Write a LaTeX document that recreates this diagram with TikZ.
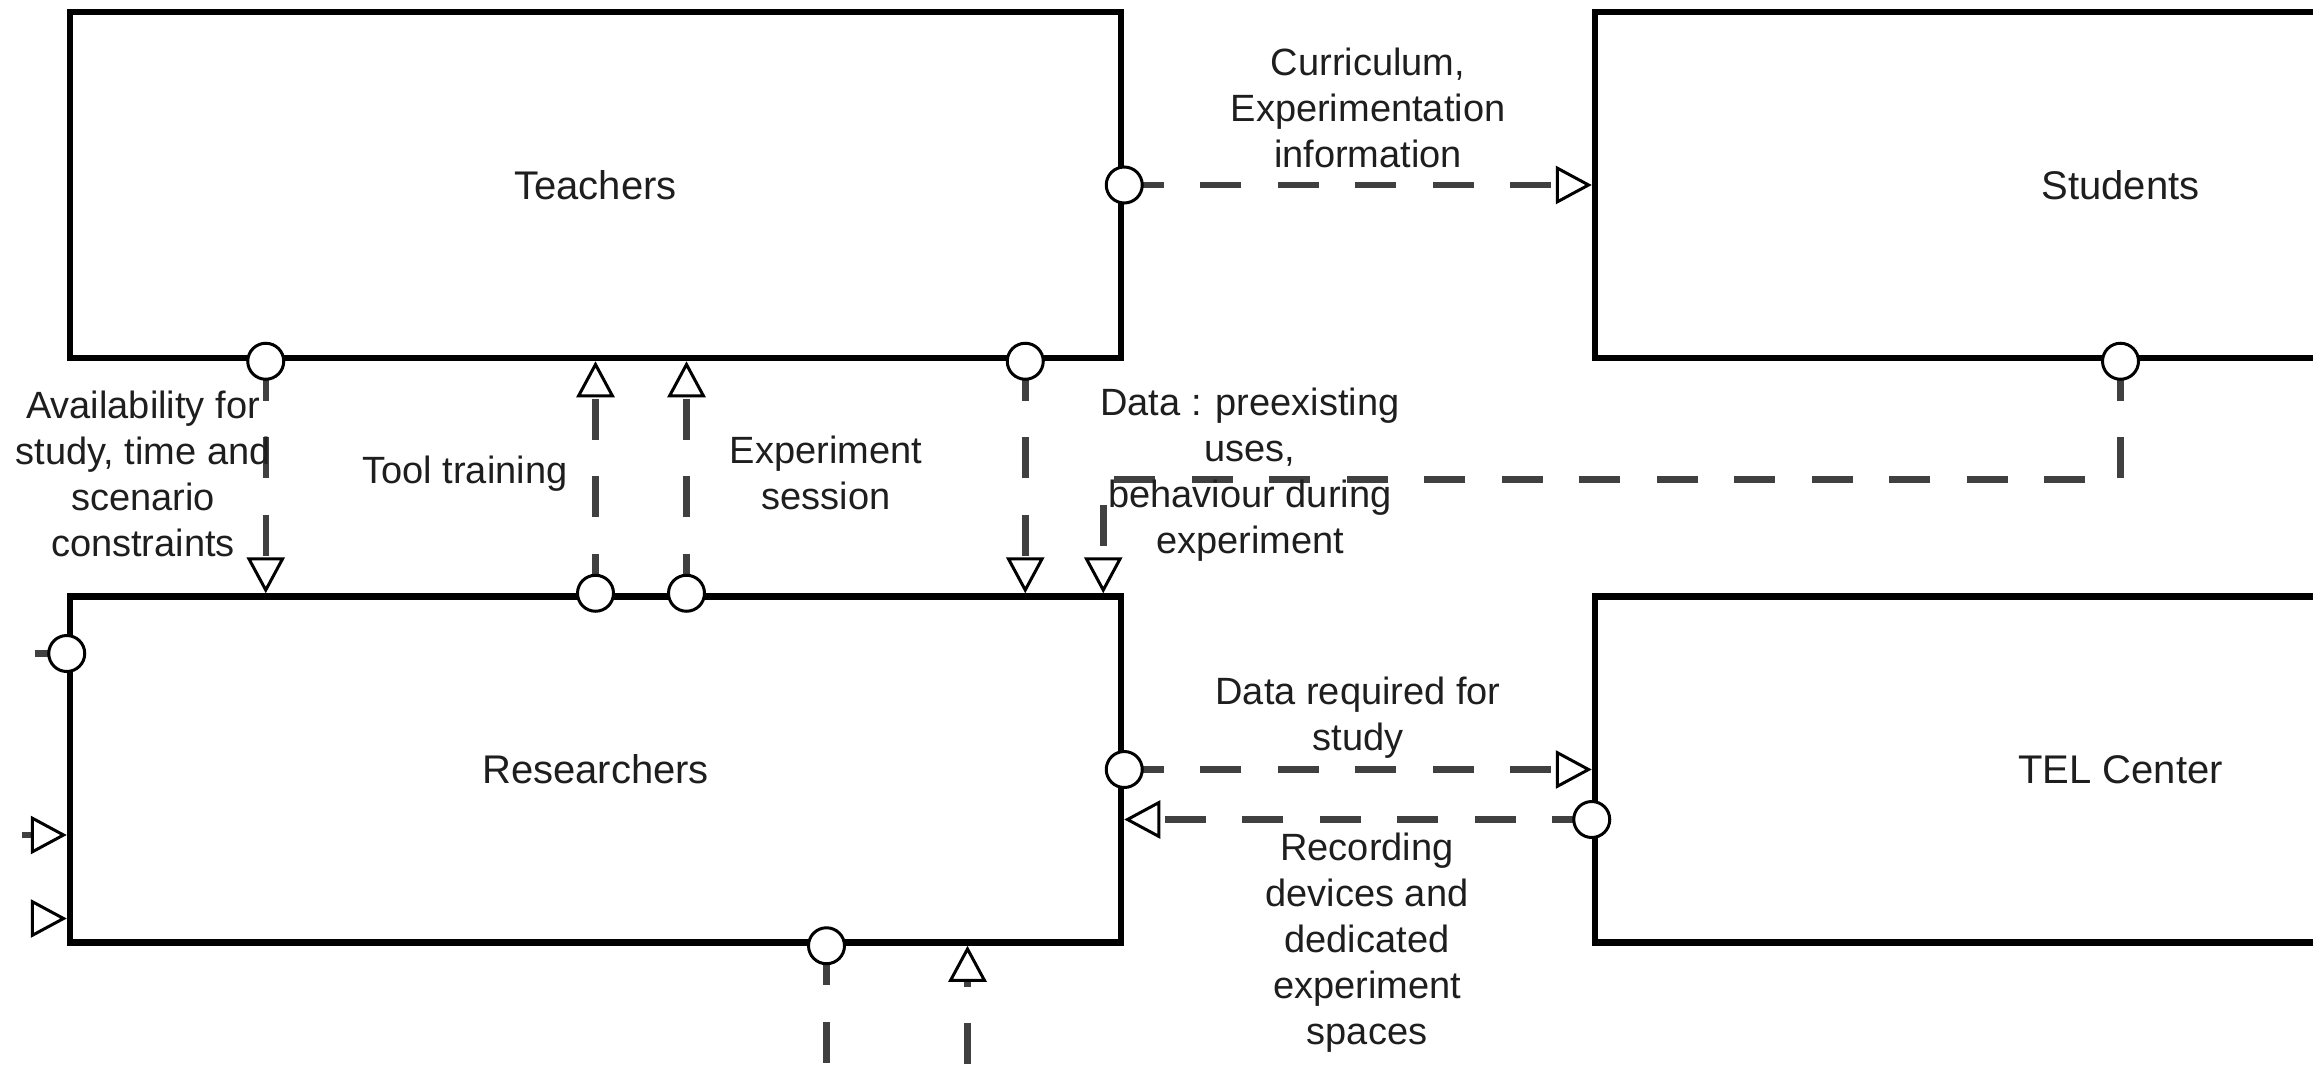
\documentclass[tikz,border=0pt]{standalone}
\usepackage{fontspec}
\setmainfont{Liberation Sans}
\usetikzlibrary{arrows.meta}
\definecolor{linegray}{HTML}{404040}
\definecolor{textgray}{HTML}{1E1E1E}

\tikzset{
  ringtip/.tip={Circle[length=39pt,width=39pt,line width=3pt,color=black,fill=white]},
  opentri/.tip={Triangle[length=36pt,width=38pt,line width=3pt,color=black,fill=white]},
}

\begin{document}
\begin{tikzpicture}[x=1pt,y=-1pt,
  box/.style={draw=black, line width=6.5pt, fill=white, minimum width=1051pt,
    minimum height=346pt, inner sep=0pt, text=textgray,
    font=\fontsize{40}{48}\selectfont},
  lbl/.style={align=center, inner sep=0pt, text=textgray,
    font=\fontsize{38}{46}\selectfont},
  flow/.style={draw=linegray, line width=6.5pt, dash pattern=on 41pt off 36.5pt},
  % dashes are counted from the centre of the start ring
  ringstart/.style={flow, shorten <=-19.5pt, dash phase=19.5pt},
  sendflow/.style={ringstart, ringtip-opentri},
]
\useasboundingbox (0,0) rectangle (2313,1065);
\clip (0,0) rectangle (2313,1065);

% actors
\node[box] (teachers)    at (595.5,185)    {Teachers};
\node[box] (students)    at (2120.5,185)   {Students};
\node[box] (researchers) at (595.5,769.5)  {Researchers};
\node[box] (tel)         at (2120.5,769.5) {TEL Center};

% free ends of connectors leaving the frame
\coordinate (outL) at (35,653.5);
\coordinate (inA)  at (22,835);
\coordinate (inB)  at (31,918.5);
\coordinate (outB) at (826.5,1120);
\coordinate (inC)  at (967.5,1141.5);

% exchanges between actors
\draw[sendflow] (teachers.east) -- (students.west);
\draw[sendflow] (students.south) -- ++(0,118) -| ([xshift=-21pt]researchers.north east);
\draw[sendflow] ([xshift=-99pt]teachers.south east) -- ([xshift=-99pt]researchers.north east);
\draw[sendflow] ([xshift=199pt]teachers.south west) -- ([xshift=199pt]researchers.north west);
\draw[sendflow] (researchers.north) -- (teachers.south);
\draw[sendflow] ([xshift=91pt]researchers.north) -- ([xshift=91pt]teachers.south);
\draw[sendflow] (researchers.east) -- (tel.west);
\draw[sendflow] ([yshift=-50pt]tel.west) -- ([yshift=-50pt]researchers.east);

% stubs on the open sides
\draw[ringstart, ringtip-] ([yshift=116pt]researchers.west) -- (outL);
\draw[flow, -opentri] (inA) -- ([yshift=-65.5pt]researchers.west);
\draw[flow, -opentri] (inB) -- ([yshift=-149pt]researchers.west);
\draw[ringstart, ringtip-] ([xshift=231pt]researchers.south) -- (outB);
\draw[flow, -opentri] (inC) -- ([xshift=372pt]researchers.south);

% labels
\node[lbl] (lcurr)  at (1368,108) {Curriculum,\\Experimentation\\information};
\node[lbl] (ldata)  at (1250,475) {Data : preexisting\\uses,\\behaviour during\\experiment};
\node[lbl] (lavail) at (143,474)  {Availability for\\study, time and\\scenario\\constraints};
\node[lbl] (ltool)  at (465,474)  {Tool training};
\node[lbl] (lexp)   at (826,473)  {Experiment\\session};
\node[lbl] (lreq)   at (1358,718) {Data required for\\study};
\node[lbl] (lrec)   at (1367,943) {Recording\\devices and\\dedicated\\experiment\\spaces};
\end{tikzpicture}
\end{document}
